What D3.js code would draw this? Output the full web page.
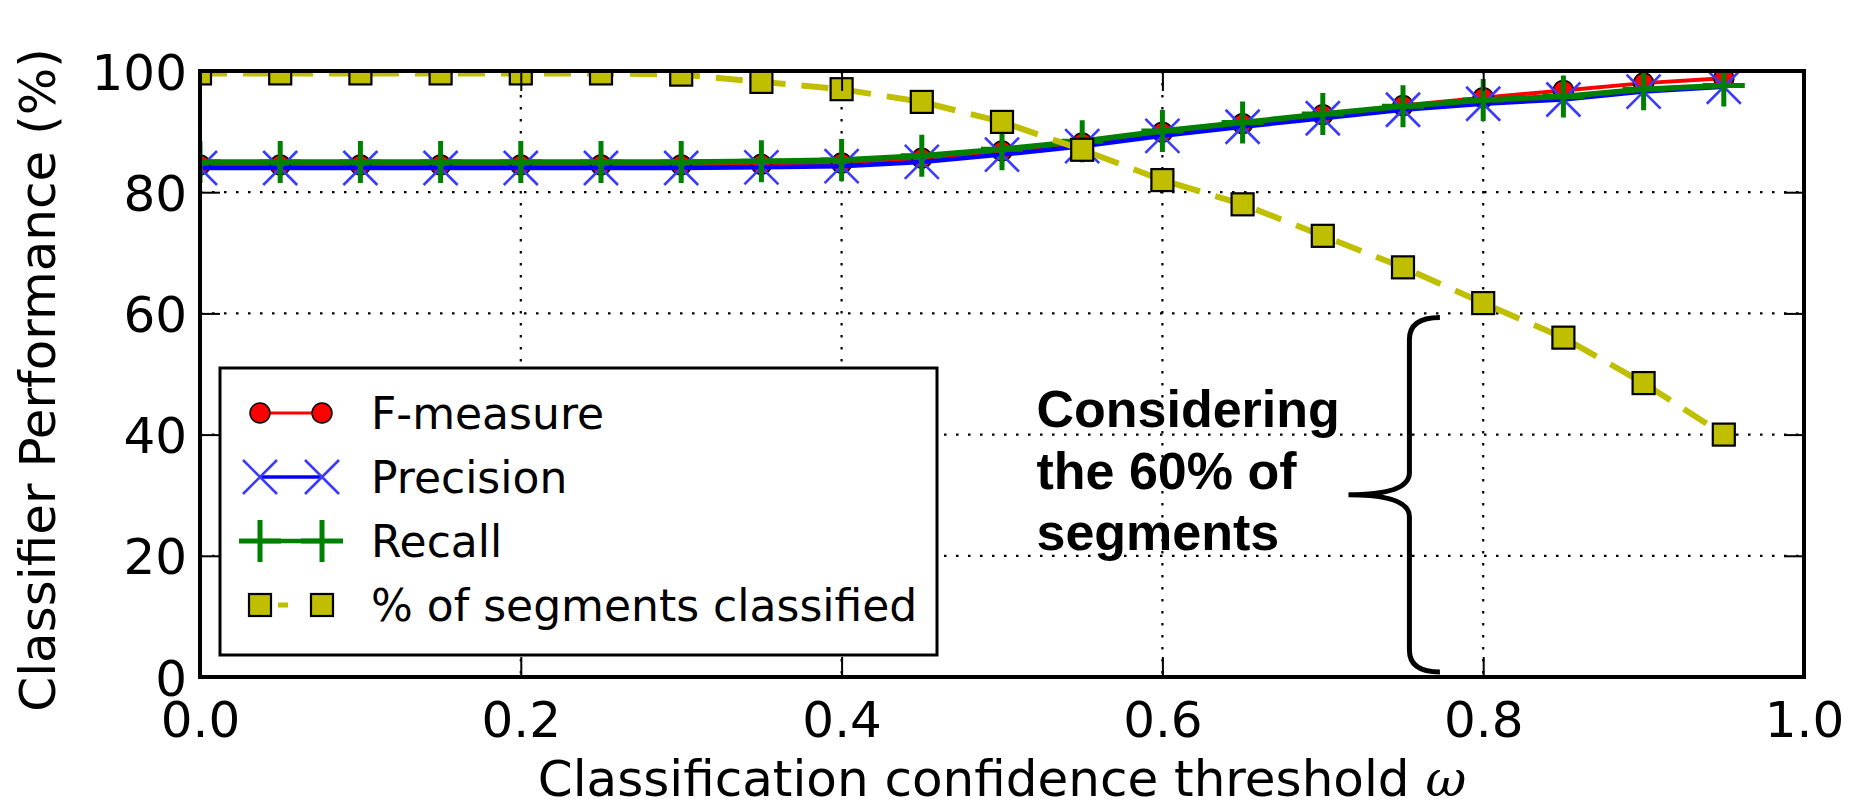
<!DOCTYPE html>
<html>
<head>
<meta charset="utf-8">
<script src="https://cdn.jsdelivr.net/npm/d3@7"></script>
<style>
  html, body { margin: 0; padding: 0; background: #fff; }
  svg { display: block; font-family: "DejaVu Sans", sans-serif; }
</style>
</head>
<body>
<div id="chart"></div>
<script>
// Classifier performance vs. confidence threshold
const thresholds = [0.00, 0.05, 0.10, 0.15, 0.20, 0.25, 0.30, 0.35, 0.40, 0.45,
                    0.50, 0.55, 0.60, 0.65, 0.70, 0.75, 0.80, 0.85, 0.90, 0.95];
const fMeasure  = [84.5, 84.5, 84.5, 84.5, 84.5, 84.5, 84.5, 84.6, 84.8, 85.6,
                   86.8, 88.1, 89.9, 91.3, 92.8, 94.3, 95.6, 96.8, 98.0, 98.8];
const precision = [84.0, 84.0, 84.0, 84.0, 84.0, 84.0, 84.0, 84.1, 84.3, 85.0,
                   86.2, 87.6, 89.3, 90.8, 92.2, 93.6, 94.6, 95.3, 96.6, 97.4];
const recall    = [85.0, 85.0, 85.0, 85.0, 85.0, 85.0, 85.0, 85.1, 85.3, 86.0,
                   87.1, 88.4, 90.1, 91.5, 92.9, 94.2, 95.2, 95.8, 97.0, 97.6];
const segments  = [99.6, 99.6, 99.6, 99.6, 99.6, 99.6, 99.4, 98.2, 97.0, 94.9,
                   91.6, 87.0, 82.0, 78.0, 72.8, 67.6, 61.7, 56.0, 48.5, 40.0];

const xTicks = [0.0, 0.2, 0.4, 0.6, 0.8, 1.0];
const yTicks = [0, 20, 40, 60, 80, 100];
const legendLabels = ["F-measure", "Precision", "Recall", "% of segments classified"];
const noteLines = ["Considering", "the 60% of", "segments"];

const width = 1856, height = 809;
const margin = { top: 71, right: 52, bottom: 132, left: 200 };
const innerW = width - margin.left - margin.right;
const innerH = height - margin.top - margin.bottom;

const x = d3.scaleLinear().domain([0, 1]).range([0, innerW]);
const y = d3.scaleLinear().domain([0, 100]).range([innerH, 0]);

const svg = d3.select("#chart").append("svg")
    .attr("width", width)
    .attr("height", height);

svg.append("defs").append("clipPath").attr("id", "plotClip")
  .append("rect").attr("width", innerW).attr("height", innerH);

const g = svg.append("g").attr("transform", `translate(${margin.left},${margin.top})`);

// dotted grid
const grid = g.append("g").attr("class", "grid")
    .attr("stroke", "#000").attr("stroke-width", 2.2)
    .attr("stroke-dasharray", "2.5,9.5");
grid.selectAll(".gx").data(xTicks).join("line")
    .attr("x1", d => x(d)).attr("x2", d => x(d))
    .attr("y1", 0).attr("y2", innerH);
grid.selectAll(".gy").data(yTicks).join("line")
    .attr("y1", d => y(d)).attr("y2", d => y(d))
    .attr("x1", 0).attr("x2", innerW);

// series
const rows = thresholds.map((t, i) => ({ t, f: fMeasure[i], p: precision[i], r: recall[i], s: segments[i] }));
const plot = g.append("g").attr("clip-path", "url(#plotClip)");

const lineOf = key => d3.line().x(d => x(d.t)).y(d => y(d[key]));

function crossPath(s) { return `M${-s},${-s}L${s},${s}M${-s},${s}L${s},${-s}`; }
function plusPath(s) { return `M0,${-s}L0,${s}M${-s},0L${s},0`; }

const series = [
  { key: "f", color: "#ff0000", lw: 4, dash: null, marker: "circle" },
  { key: "p", color: "#0000ff", lw: 4.5, dash: null, marker: "x" },
  { key: "r", color: "#008000", lw: 5.5, dash: null, marker: "plus" },
  { key: "s", color: "#bfbf00", lw: 6, dash: "27,16", marker: "square" }
];

function drawMarker(sel, marker, color) {
  if (marker === "circle") {
    sel.append("circle").attr("r", 10).attr("fill", color)
      .attr("stroke", "#000").attr("stroke-width", 1.5);
  } else if (marker === "x") {
    sel.append("path").attr("d", crossPath(17)).attr("fill", "none")
      .attr("stroke", "#3a3aff").attr("stroke-width", 2.6);
  } else if (marker === "plus") {
    sel.append("path").attr("d", plusPath(21)).attr("fill", "none")
      .attr("stroke", color).attr("stroke-width", 5);
  } else if (marker === "square") {
    sel.append("rect").attr("x", -11).attr("y", -11).attr("width", 22).attr("height", 22)
      .attr("fill", color).attr("stroke", "#000").attr("stroke-width", 2.2);
  }
}

series.forEach(s => {
  const sg = plot.append("g");
  sg.append("path").datum(rows)
    .attr("fill", "none")
    .attr("stroke", s.color)
    .attr("stroke-width", s.lw)
    .attr("stroke-dasharray", s.dash)
    .attr("d", lineOf(s.key));
  sg.selectAll(".m").data(rows).join("g")
    .attr("transform", d => `translate(${x(d.t)},${y(d[s.key])})`)
    .each(function() { drawMarker(d3.select(this), s.marker, s.color); });
});

// axes with inward ticks on all sides
const tickLen = 20;
const xAxisB = d3.axisBottom(x).tickValues(xTicks).tickFormat(d3.format(".1f"))
    .tickSizeInner(-tickLen).tickSizeOuter(0).tickPadding(24);
const yAxisL = d3.axisLeft(y).tickValues(yTicks).tickFormat(d3.format("d"))
    .tickSizeInner(-tickLen).tickSizeOuter(0).tickPadding(13);

const gx = g.append("g").attr("transform", `translate(0,${innerH})`).call(xAxisB);
const gy = g.append("g").call(yAxisL);
const gxT = g.append("g").call(d3.axisTop(x).tickValues(xTicks).tickFormat("").tickSizeInner(-tickLen).tickSizeOuter(0));
const gyR = g.append("g").attr("transform", `translate(${innerW},0)`)
    .call(d3.axisRight(y).tickValues(yTicks).tickFormat("").tickSizeInner(-tickLen).tickSizeOuter(0));

[gx, gy, gxT, gyR].forEach(a => {
  a.select(".domain").remove();
  a.selectAll(".tick line").attr("stroke", "#000").attr("stroke-width", 2);
  a.selectAll(".tick text")
    .attr("fill", "#000")
    .style("font-family", "'DejaVu Sans', sans-serif")
    .style("font-size", "50px");
});
gy.selectAll(".tick text").attr("dy", "0.36em");

// frame
g.append("rect").attr("width", innerW).attr("height", innerH)
  .attr("fill", "none").attr("stroke", "#000").attr("stroke-width", 4);

// axis labels
svg.append("text")
  .attr("transform", `translate(55,${margin.top + innerH / 2 + 6}) rotate(-90)`)
  .attr("text-anchor", "middle")
  .style("font-size", "50px")
  .text("Classifier Performance (%)");

const xl = svg.append("text")
  .attr("x", margin.left + innerW / 2)
  .attr("y", 796)
  .attr("text-anchor", "middle")
  .style("font-size", "50px");
xl.append("tspan").text("Classification confidence threshold ");
xl.append("tspan").style("font-style", "italic").style("font-family", "'DejaVu Serif', serif").text("ω");

// legend
const legend = g.append("g").attr("transform", "translate(20,297)");
legend.append("rect").attr("width", 717).attr("height", 287)
  .attr("fill", "#fff").attr("stroke", "#000").attr("stroke-width", 3);

legendLabels.forEach((label, i) => {
  const s = series[i];
  const row = legend.append("g").attr("transform", `translate(0,${45 + i * 64})`);
  row.append("line").attr("x1", 40).attr("x2", 102).attr("y1", 0).attr("y2", 0)
    .attr("stroke", s.color).attr("stroke-width", s.key === "s" ? 5 : s.lw * 0.8)
    .attr("stroke-dasharray", s.key === "s" ? "0,18,10,100" : null);
  [40, 102].forEach(px => {
    drawMarker(row.append("g").attr("transform", `translate(${px},0)`), s.marker, s.color);
  });
  row.append("text").attr("x", 151).attr("dy", "0.36em")
    .style("font-size", "44px")
    .text(label);
});

// annotation brace spanning 0..60 %
const braceTop = y(60) + 4, braceBot = y(0) - 5, braceMid = (braceTop + braceBot) / 2;
const bx = x(0.754), tipX = x(0.716), endX = x(0.773);
const r = 22;
const bracePath = [
  `M${endX},${braceTop}`,
  `Q${bx},${braceTop} ${bx},${braceTop + r}`,
  `L${bx},${braceMid - r}`,
  `Q${bx},${braceMid} ${tipX},${braceMid}`,
  `Q${bx},${braceMid} ${bx},${braceMid + r}`,
  `L${bx},${braceBot - r}`,
  `Q${bx},${braceBot} ${endX},${braceBot}`
].join("");
g.append("path").attr("d", bracePath)
  .attr("fill", "none").attr("stroke", "#000").attr("stroke-width", 5);

const note = g.append("text")
  .attr("x", x(0.5215))
  .attr("y", 356)
  .style("font-family", "'Liberation Sans', Arial, sans-serif")
  .style("font-weight", "bold")
  .style("font-size", "52px");
noteLines.forEach((t, i) => {
  note.append("tspan").attr("x", x(0.5215)).attr("dy", i === 0 ? 0 : 61.5).text(t);
});
</script>
</body>
</html>
